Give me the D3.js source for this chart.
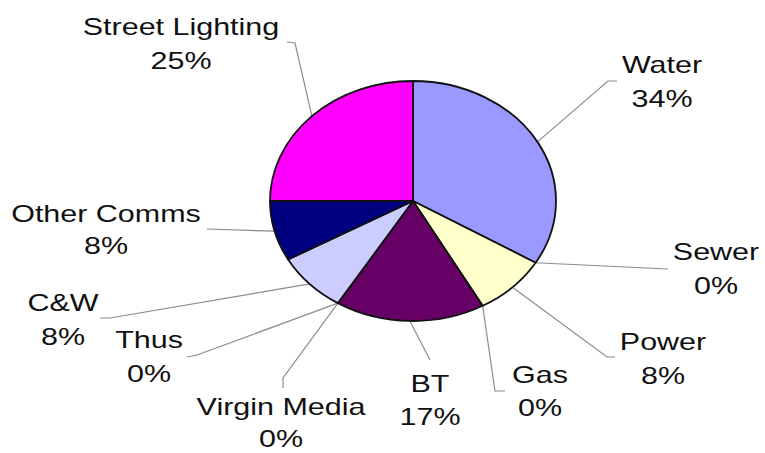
<!DOCTYPE html>
<html>
<head>
<meta charset="utf-8">
<script src="https://cdn.jsdelivr.net/npm/d3@7"></script>
<style>
  body { margin: 0; background: #fff; }
  svg { display: block; }
</style>
</head>
<body>
<svg width="765" height="453"></svg>
<script>
// slice data, clockwise from 12 o'clock
const categories = ["Water", "Sewer", "Power", "Gas", "BT", "Virgin Media", "Thus", "C&W", "Other Comms", "Street Lighting"];
const shares = [33.6, 0, 8.3, 0, 16.9, 0, 0, 8.1, 8.1, 25.0];
const sliceColors = ["#9999ff", "#ffffcc", "#ffffcc", "#660066", "#660066", "#ccccff", "#ccccff", "#ccccff", "#000080", "#ff00ff"];

// label placement (text centre + baseline of first line, leader bend points)
const labelLayout = {
  "Water":           { x: 662, y: 73,  gap: 34, bend: [[608, 81], [617, 81]] },
  "Sewer":           { x: 716, y: 260, gap: 34, bend: [[668, 269]] },
  "Power":           { x: 663, y: 350, gap: 34, bend: [[607, 357], [615, 357]] },
  "Gas":             { x: 540, y: 383, gap: 33, bend: [[495, 391], [505, 391]] },
  "BT":              { x: 430, y: 392, gap: 33, bend: [[430, 360]] },
  "Virgin Media":    { x: 281, y: 415, gap: 32, bend: [[283, 378], [283, 388]] },
  "Thus":            { x: 149, y: 348, gap: 34, bend: [[197, 355], [187, 357]] },
  "C&W":             { x: 63,  y: 311, gap: 34, bend: [[110, 318], [100, 318]] },
  "Other Comms":     { x: 106, y: 222, gap: 32, bend: [[207, 229]] },
  "Street Lighting": { x: 181, y: 35,  gap: 34, bend: [[295, 43], [287, 42]] }
};

const cx = 413, cy = 201, rx = 143, ry = 120;
const r = ry, sx = rx / ry;
const textScale = 1.27;

const svg = d3.select("svg");
const data = categories.map((c, i) => ({ name: c, value: shares[i], color: sliceColors[i] }));

const pie = d3.pie().value(d => d.value).sort(null);
const arcs = pie(data);
const arc = d3.arc().innerRadius(0).outerRadius(r);

// leader lines
const leaders = svg.append("g");
arcs.forEach(a => {
  const mid = (a.startAngle + a.endAngle) / 2;
  const p0 = [cx + Math.sin(mid) * rx, cy - Math.cos(mid) * ry];
  const pts = [p0].concat(labelLayout[a.data.name].bend);
  leaders.append("path")
    .attr("d", d3.line()(pts))
    .attr("fill", "none")
    .attr("stroke", "#8c8c8c")
    .attr("stroke-width", 1.2);
});

// pie, squashed into an ellipse
const g = svg.append("g").attr("transform", `translate(${cx},${cy}) scale(${sx},1)`);
g.selectAll("path.slice")
  .data(arcs.filter(a => a.data.value > 0))
  .enter().append("path")
  .attr("class", "slice")
  .attr("d", arc)
  .attr("fill", d => d.data.color)
  .attr("stroke", "#111")
  .attr("stroke-width", 1.8)
  .attr("stroke-linejoin", "round")
  .attr("vector-effect", "non-scaling-stroke");

// labels
arcs.forEach(a => {
  const L = labelLayout[a.data.name];
  const t = svg.append("g").attr("transform", `translate(${L.x},${L.y}) scale(${textScale},1)`);
  [a.data.name, Math.round(a.data.value) + "%"].forEach((s, i) => {
    t.append("text")
      .attr("y", i * L.gap)
      .attr("text-anchor", "middle")
      .attr("font-family", "'Liberation Sans', Arial, sans-serif")
      .attr("font-size", "24px")
      .attr("fill", "#111")
      .text(s);
  });
});
</script>
</body>
</html>
